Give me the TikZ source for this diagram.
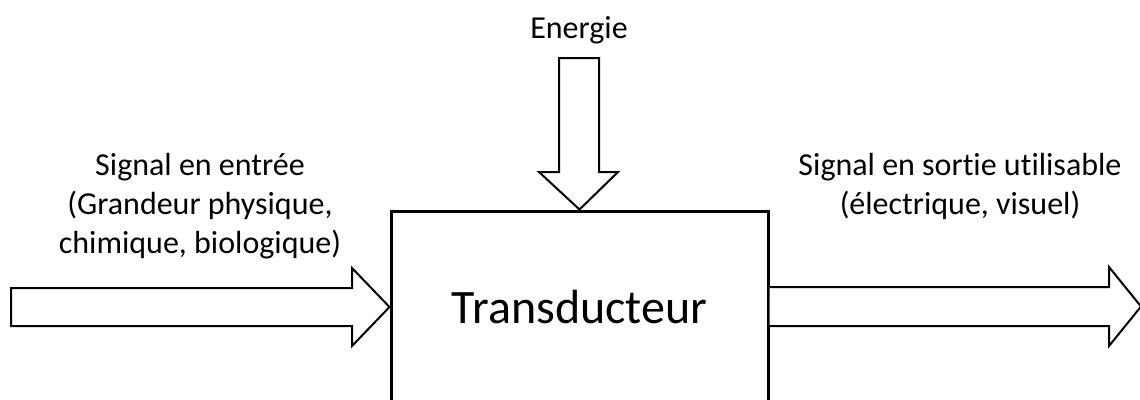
\documentclass[tikz,border=0pt]{standalone}
\usepackage{fontspec}
\setmainfont{Carlito}[Ligatures=NoCommon,Contextuals=NoAlternate]
\usepackage{tikz}
\usetikzlibrary{calc}

\tikzset{
  bloc/.style={draw, line width=3pt, minimum width=377pt, minimum height=192pt, inner sep=0pt},
  fleche/.style={draw, line width=2pt, fill=white, line join=miter},
  legende/.style={align=center, inner sep=0pt, font=\fontsize{32}{39}\selectfont}
}

\begin{document}
\begin{tikzpicture}[x=1pt,y=-1pt]%transducteur
\useasboundingbox (0,0) rectangle (1140,399);
\node[bloc, font=\fontsize{48}{58}\selectfont] (transducteur) at (579.5,307) {Transducteur};
% fleches
\draw[fleche] (11,288) -- (352,288) -- (352,268) -- (transducteur.west)
  -- (352,346) -- (352,326) -- (11,326) -- cycle;
\draw[fleche] (transducteur.east |- 0,287) -- (1109,287) -- (1109,267) -- (1141,306.5)
  -- (1109,346) -- (1109,326) -- (transducteur.east |- 0,326);
\draw[fleche] (559,58) -- (599,58) -- (599,172) -- (618,172) -- (transducteur.north)
  -- (539,172) -- (559,172) -- cycle;
% textes
\node[legende] (energie) at (579,30) {Energie};
\node[legende] (entree) at (200,206) {Signal en entrée\\(Grandeur physique,\\chimique, biologique)};
\node[legende] (sortie) at (960,186) {Signal en sortie utilisable\\(électrique, visuel)};
\end{tikzpicture}
\end{document}
